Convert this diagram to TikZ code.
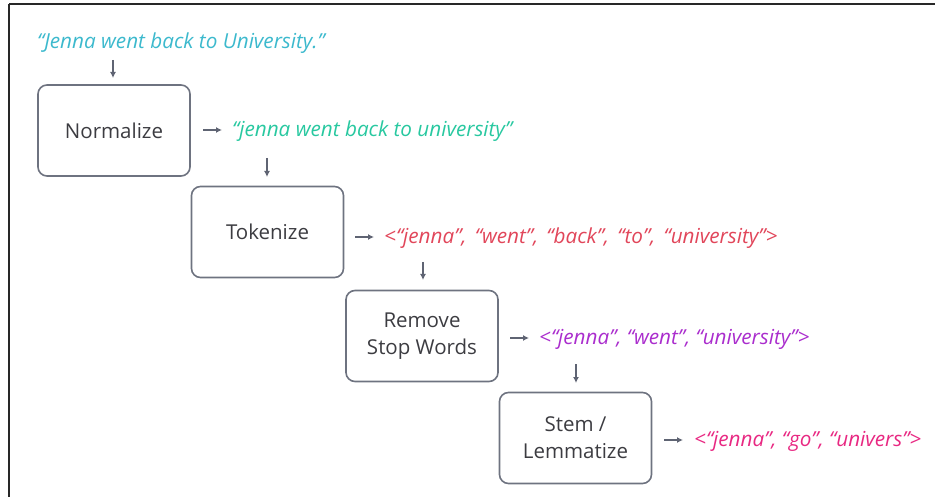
\documentclass[tikz,border=0pt]{standalone}
\usepackage{fontspec}
\setmainfont{Open Sans}
\usetikzlibrary{arrows.meta}
\definecolor{framec}{RGB}{40,40,40}
\definecolor{boxc}{RGB}{110,115,128}
\definecolor{arrc}{RGB}{95,100,115}
\definecolor{txtc}{RGB}{60,60,65}
\definecolor{cyanc}{RGB}{60,185,205}
\definecolor{tealc}{RGB}{40,200,160}
\definecolor{redc}{RGB}{225,70,90}
\definecolor{purplec}{RGB}{170,45,205}
\definecolor{pinkc}{RGB}{232,40,130}
\tikzset{
  stepbox/.style={draw=boxc, line width=1.6pt, rounded corners=9pt,
    minimum width=152pt, minimum height=91pt, inner sep=0pt,
    font=\fontsize{20.5}{27}\selectfont, text=txtc, align=center},
  outtext/.style={anchor=west, inner sep=0pt, font=\fontsize{20.7}{24}\selectfont\itshape},
  flow/.style={draw=arrc, line width=1.3pt, -{Latex[length=6pt,width=6pt]}}
}
\begin{document}
\begin{tikzpicture}[x=1pt,y=-1pt]
\useasboundingbox (0,0) rectangle (935,497);
% frame edges
\draw[framec, line width=2pt] (9,4) -- (935,4);
\draw[framec, line width=2pt] (9,4) -- (9,497);

\node[outtext, text=cyanc] (in) at (37,43) {“Jenna went back to University.”};
\node[stepbox] (norm) at (114,130.5) {Normalize};
\node[outtext, text=tealc] (o1) at (232,131) {“jenna went back to university”};
\node[stepbox] (tok) at (267.5,232) {Tokenize};
\node[outtext, text=redc] (o2) at (384,238) {\spaceskip=8.3pt <“jenna”, “went”, “back”, “to”, “university”>};
\node[stepbox] (stop) at (422,336) {Remove\\Stop Words};
\node[outtext, text=purplec] (o3) at (539,339) {<“jenna”, “went”, “university”>};
\node[stepbox] (stem) at (575.5,438) {Stem /\\Lemmatize};
\node[outtext, text=pinkc] (o4) at (694,441) {<“jenna”, “go”, “univers”>};

% connectors
\coordinate (a0) at (113,60);
\draw[flow] (a0) -- (113,78);
\coordinate (r1) at (203,130);
\draw[flow] (r1) -- (222,130);
\coordinate (d1) at (267,158);
\draw[flow] (d1) -- (267,177);
\coordinate (r2) at (355,237);
\draw[flow] (r2) -- (374,237);
\coordinate (d2) at (423,262);
\draw[flow] (d2) -- (423,280);
\coordinate (r3) at (510,338);
\draw[flow] (r3) -- (529,338);
\coordinate (d3) at (576,364);
\draw[flow] (d3) -- (576,383);
\coordinate (r4) at (664,440);
\draw[flow] (r4) -- (683,440);
\end{tikzpicture}
\end{document}
